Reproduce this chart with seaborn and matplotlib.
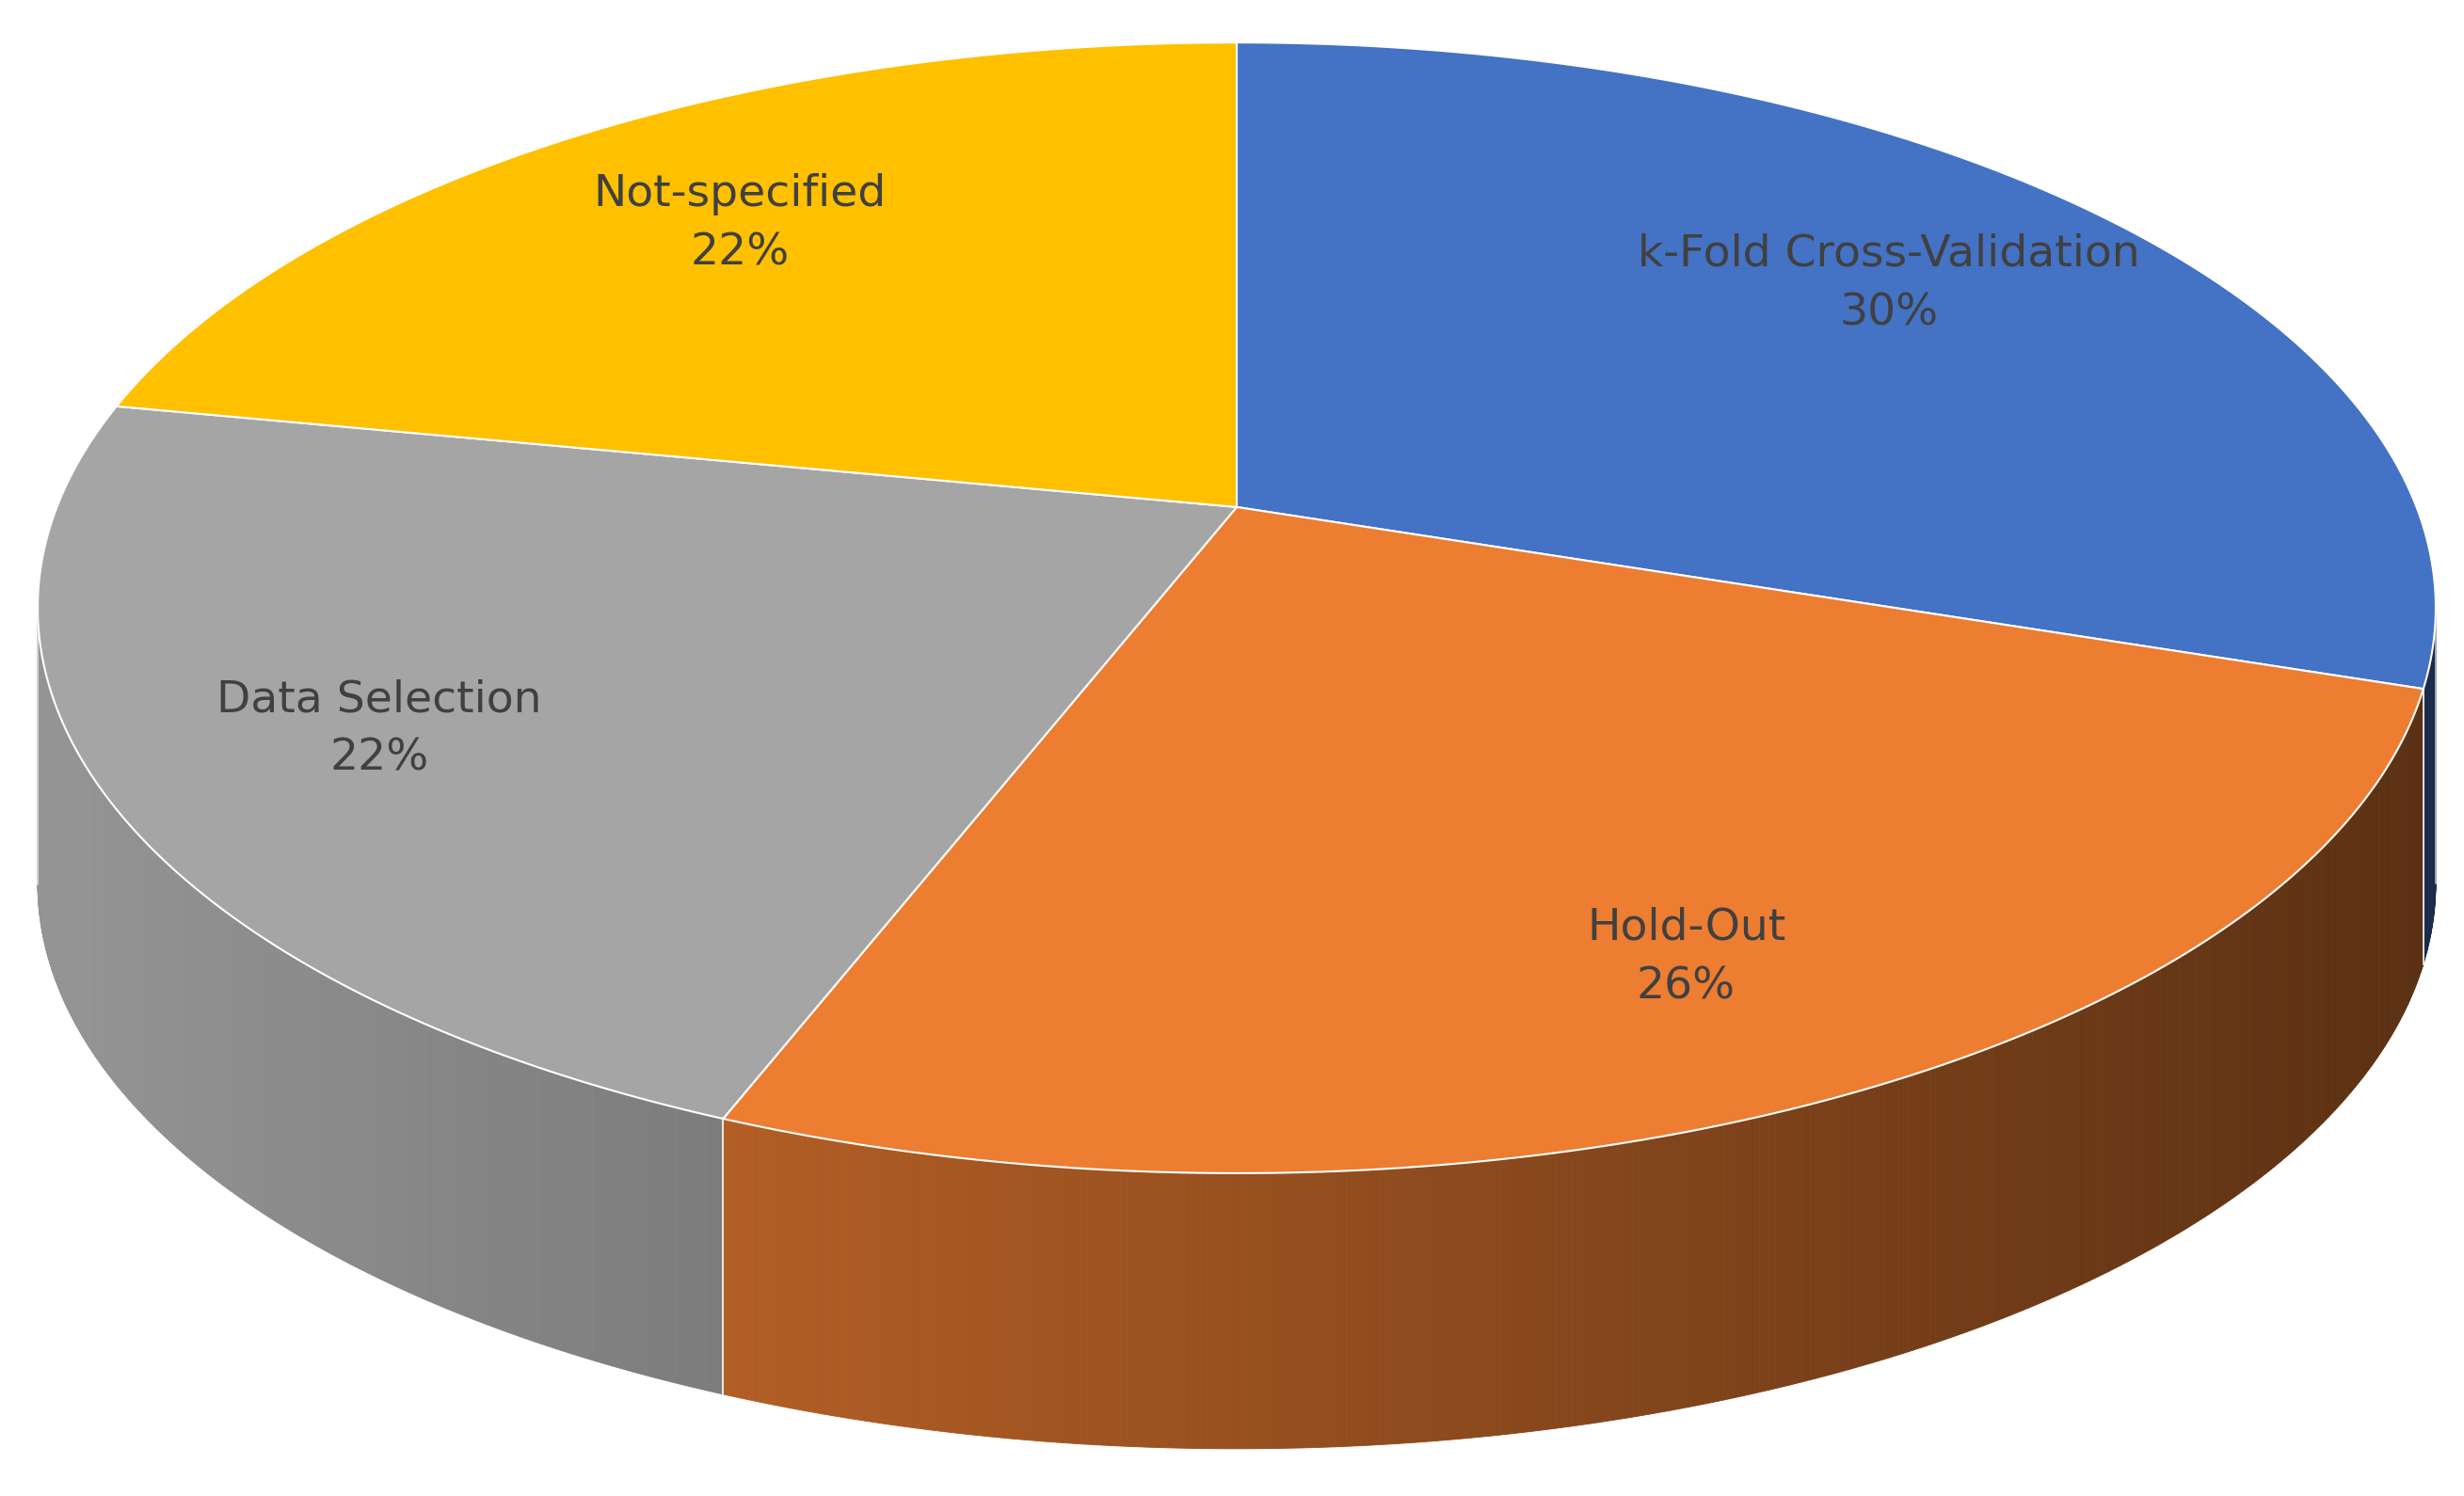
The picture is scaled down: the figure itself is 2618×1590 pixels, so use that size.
import numpy as np
import seaborn as sns
import matplotlib.pyplot as plt
from matplotlib.colors import to_rgb

sns.set_theme(style="white")

labels = ["k-Fold Cross-Validation", "Hold-Out", "Data Selection", "Not-specified"]
shares = [30, 26, 22, 22]
colors = ["#4472c4", "#ed7d31", "#a5a5a5", "#ffc000"]

# geometry of the tilted disc (image pixels of a 1568x950 canvas)
cx, cy, rx, ry = 787, 386, 763, 359
apex = np.array([787.0, 322.0])
depth = 175
label_frac = 0.76


def rim(phi):
    # point where a ray from the apex (perspective angle phi) meets the rim
    dx = np.cos(phi)
    dy = -(ry / rx) * np.sin(phi)
    px, py = apex[0] - cx, apex[1] - cy
    A = (dx / rx) ** 2 + (dy / ry) ** 2
    B = 2 * (px * dx / rx ** 2 + py * dy / ry ** 2)
    C = (px / rx) ** 2 + (py / ry) ** 2 - 1
    s = (-B + np.sqrt(B ** 2 - 4 * A * C)) / (2 * A)
    return apex[0] + s * dx, apex[1] + s * dy, s


fig, ax = plt.subplots(figsize=(26.18, 15.9), dpi=100)
fig.subplots_adjust(0, 0, 1, 1)
ax.set_xlim(0, 1568)
ax.set_ylim(950, 0)
ax.axis("off")

fracs = np.array(shares) / sum(shares)
starts = np.deg2rad(90) - 2 * np.pi * np.concatenate([[0], np.cumsum(fracs)[:-1]])
ends = starts - 2 * np.pi * fracs

# side walls: only the part of the rim on the lower half is visible
for s, e, c in zip(starts, ends, colors):
    base = np.array(to_rgb(c))
    xs, ys, _ = rim(np.linspace(e, s, 400))
    vis = ys > cy
    xs, ys = xs[vis], ys[vis]
    if len(xs) < 2:
        continue
    for i in range(len(xs) - 1):
        x1, y1, x2, y2 = xs[i], ys[i], xs[i + 1], ys[i + 1]
        f = 0.9 - 0.52 * ((x1 + x2) / 2 - (cx - rx)) / (2 * rx)
        col = np.clip(base * f, 0, 1)
        ax.fill([x1, x2, x2, x1], [y1, y2, y2 + depth, y1 + depth],
                color=col, lw=0.6, ec=col)
    for x, y in ((xs[0], ys[0]), (xs[-1], ys[-1])):
        ax.plot([x, x], [y, y + depth], color="white", lw=1.2, alpha=0.7)

# top faces
for s, e, c, lab, p in zip(starts, ends, colors, labels, shares):
    xs, ys, _ = rim(np.linspace(s, e, 300))
    ax.fill(np.concatenate([[apex[0]], xs]), np.concatenate([[apex[1]], ys]),
            color=c, ec="white", lw=1.5)
    mx, my, _ = rim((s + e) / 2)
    lx = apex[0] + label_frac * (mx - apex[0])
    ly = apex[1] + label_frac * (my - apex[1])
    ax.text(lx, ly, f"{lab}\n{p}%", ha="center", va="center",
            fontsize=34, color="#404040", linespacing=1.5)

fig.savefig("out.png", dpi=100)
